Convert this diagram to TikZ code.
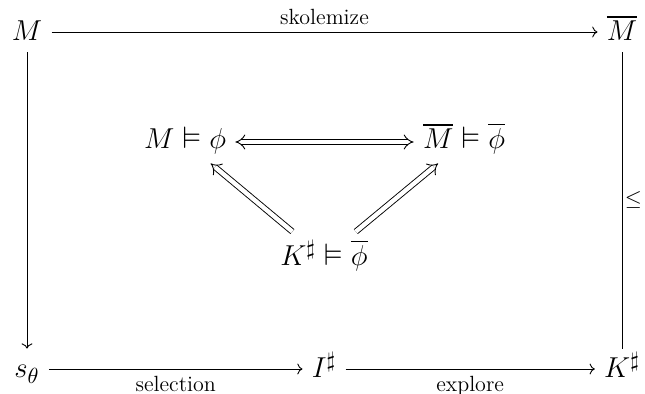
\documentclass[tikz,border=0pt]{standalone}
\usepackage{amssymb}
\usetikzlibrary{arrows.meta}
\begin{document}
\begin{tikzpicture}[x=0.5pt,y=-0.5pt]
\tikzset{
  obj/.style={font=\fontsize{15.5}{18}\selectfont, inner xsep=4.5pt, inner ysep=2.5pt, text height=12pt, text depth=3pt},
  mid/.style={font=\fontsize{15.5}{18}\selectfont, inner xsep=4.5pt, inner ysep=3pt, text height=11pt, text depth=4pt},
  kmid/.style={font=\fontsize{15.5}{18}\selectfont, inner xsep=4.5pt, inner ysep=5pt, text height=12pt, text depth=4pt, anchor=base},
  lbl/.style={font=\fontsize{11}{13}\selectfont},
  arr/.style={->, line width=0.45pt},
  dto/.style={double, double distance=2.2pt, line width=0.45pt, -{Implies}},
  dboth/.style={double, double distance=2.2pt, line width=0.45pt, {Implies}-{Implies}},
}
\useasboundingbox (0,0) rectangle (645,394);
% corner nodes
\node[obj] (M)  at (27,32)  {$M$};
\node[obj] (Mb) at (622,32) {$\overline{M}$};
\node[obj] (s)  at (27,369) {$s_\theta$};
\node[obj] (I)  at (324,369) {$I^\sharp$};
\node[obj] (K)  at (622,369) {$K^\sharp$};
% middle nodes
\node[mid] (A) at (185,142) {$M \vDash \phi$};
\node[mid] (B) at (464,142) {$\overline{M} \vDash \overline{\phi}$};
\node[kmid] (C) at (324,266) {$K^\sharp \vDash \overline{\phi}$};
% outer arrows
\draw[arr] (M) -- node[above, lbl] {skolemize} (Mb);
\draw[arr] (M) -- (s);
\draw[arr] (s) -- node[below, lbl] {selection} (I);
\draw[arr] (I) -- node[below, lbl] {explore} (K);
\draw[line width=0.45pt] (K) -- node[right, lbl, inner xsep=1.2pt] {$\leq$} (Mb);
% inner arrows
\draw[dboth] (A) -- (B);
\draw[dto] (C) -- (A);
\draw[dto] (C) -- (B);
\end{tikzpicture}
\end{document}
